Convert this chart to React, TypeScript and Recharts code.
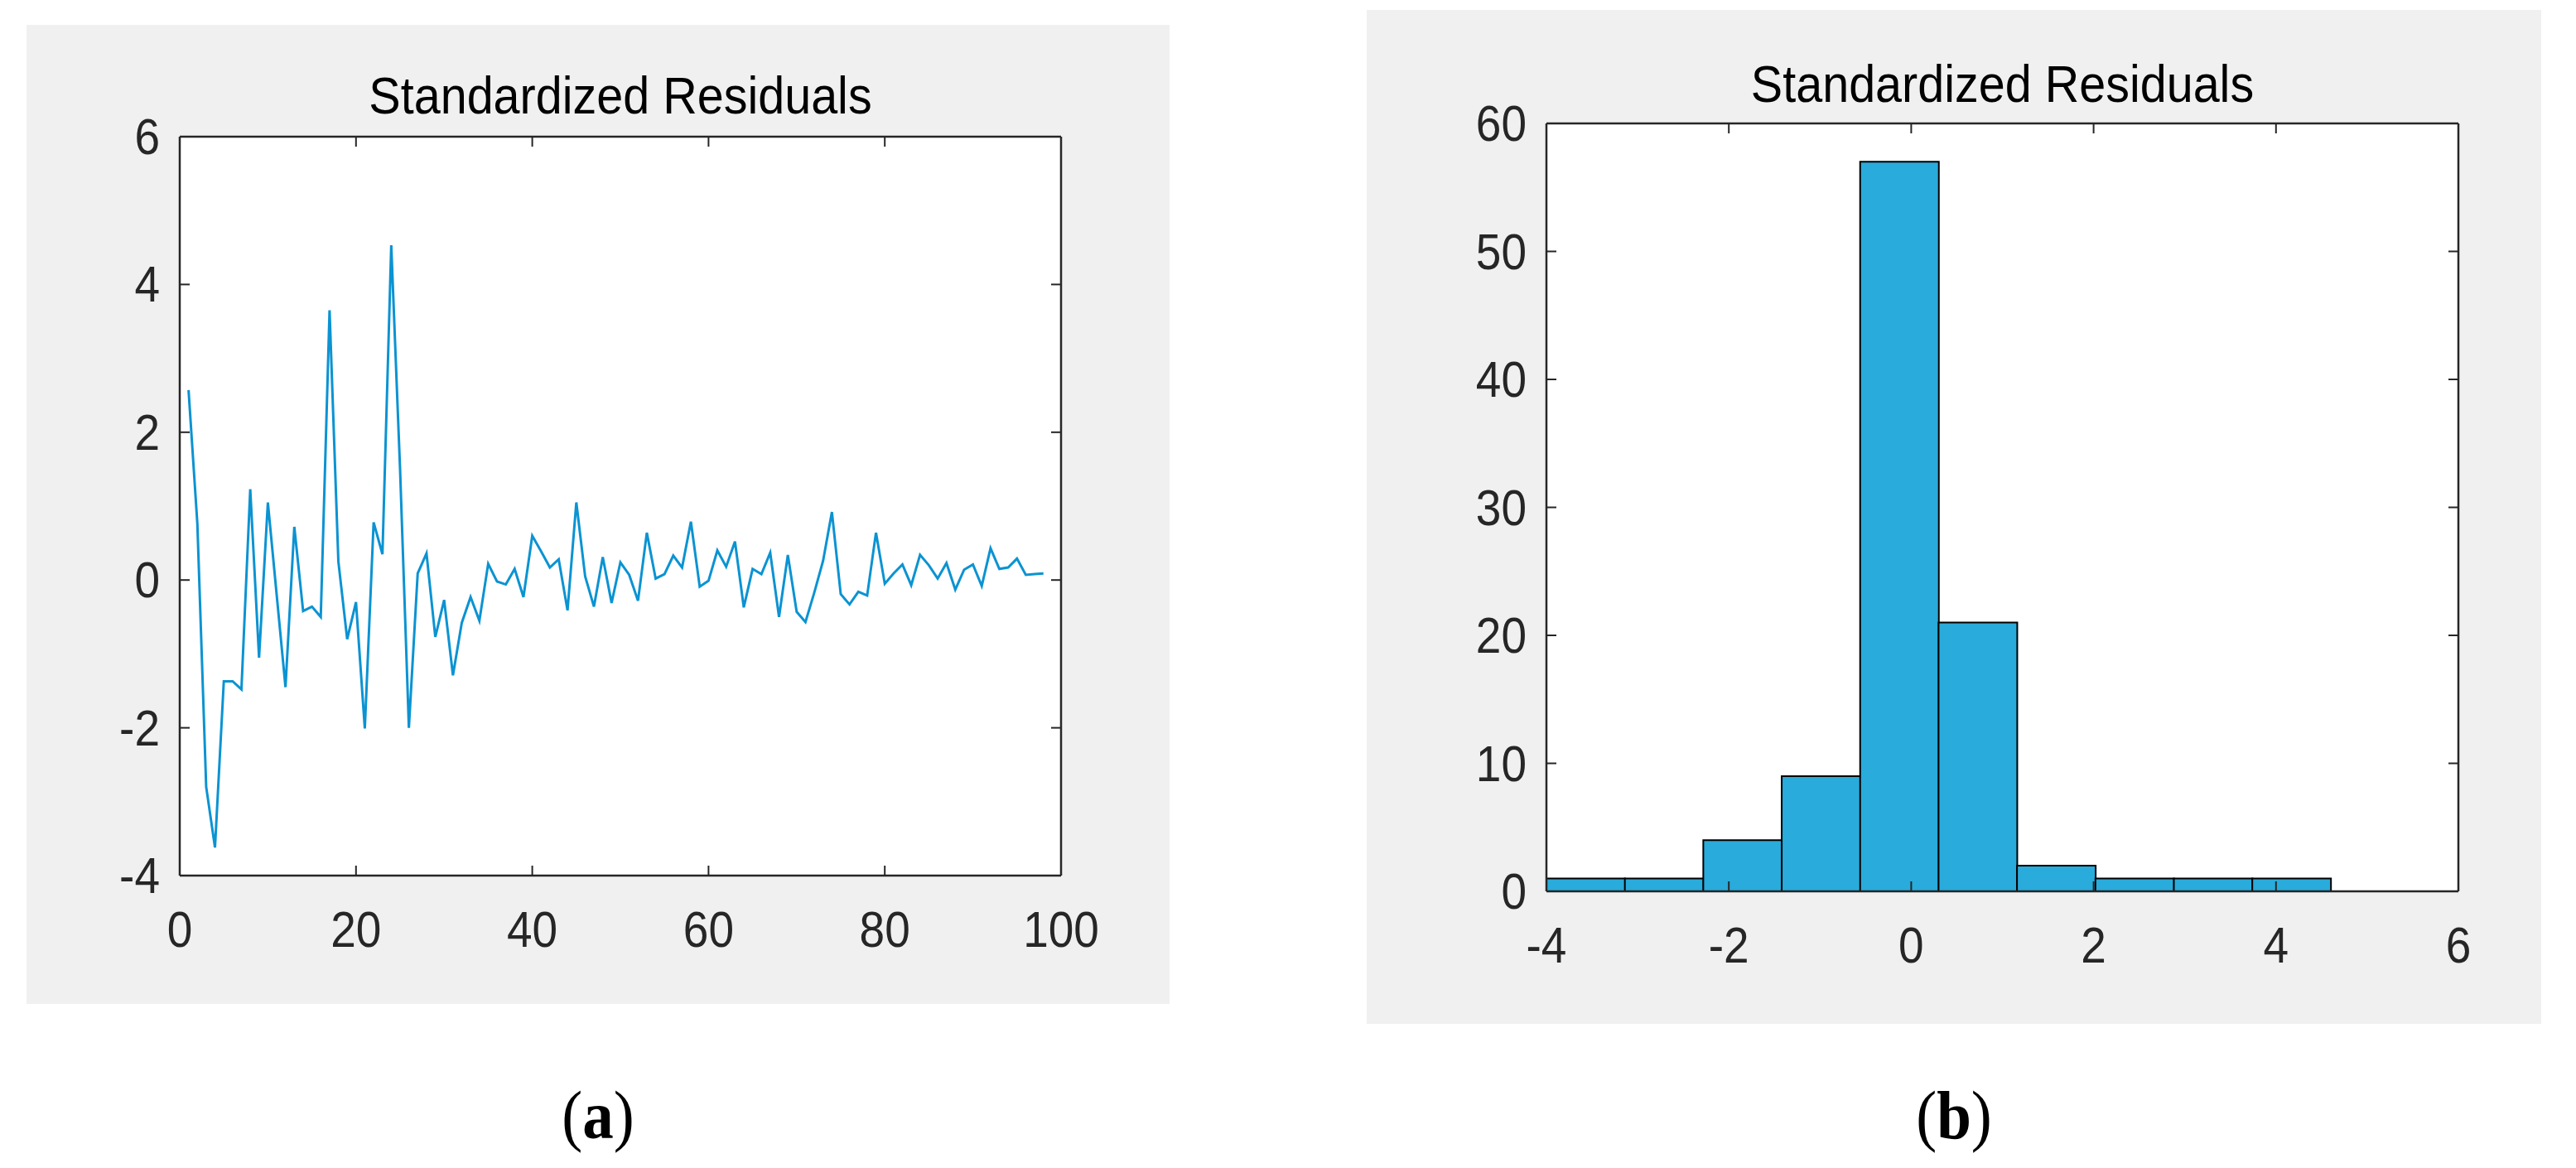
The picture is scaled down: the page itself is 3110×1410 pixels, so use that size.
import React from 'react';
import { ComposedChart, Line, BarChart, Bar, XAxis, YAxis, CartesianGrid } from 'recharts';

// ---------- data ----------
const residuals = [
  2.57, 0.76, -2.8, -3.62, -1.37, -1.37, -1.48, 1.23, -1.05, 1.05,
  -0.2, -1.45, 0.72, -0.42, -0.36, -0.5, 3.65, 0.25, -0.8, -0.3,
  -2.01, 0.78, 0.35, 4.53, 1.5, -2.0, 0.09, 0.36, -0.77, -0.27,
  -1.29, -0.58, -0.23, -0.55, 0.22, -0.02, -0.06, 0.15, -0.23, 0.6,
  0.39, 0.17, 0.28, -0.41, 1.05, 0.05, -0.36, 0.31, -0.31, 0.24,
  0.07, -0.28, 0.64, 0.02, 0.08, 0.33, 0.17, 0.79, -0.09, -0.01,
  0.4, 0.18, 0.52, -0.37, 0.15, 0.08, 0.37, -0.5, 0.34, -0.43,
  -0.57, -0.17, 0.26, 0.92, -0.19, -0.33, -0.16, -0.21, 0.64, -0.05,
  0.09, 0.21, -0.07, 0.34, 0.2, 0.02, 0.23, -0.13, 0.14, 0.21,
  -0.08, 0.43, 0.15, 0.17, 0.29, 0.07, 0.08, 0.09,
];
const lineTicksX = [0, 20, 40, 60, 80, 100];
const lineTicksY = [-4, -2, 0, 2, 4, 6];

const histEdges = [-4, -3.14, -2.28, -1.42, -0.56, 0.3, 1.16, 2.02, 2.88, 3.74, 4.6];
const histCounts = [1, 1, 4, 9, 57, 21, 2, 1, 1, 1];
const histTicksX = [-4, -2, 0, 2, 4, 6];
const histTicksY = [0, 10, 20, 30, 40, 50, 60];

const titleText = 'Standardized Residuals';
const captions = ['a', 'b'];

const lineData = residuals.map((v, i) => ({ t: i + 1, v }));
const histData = histCounts.map((c, i) => ({
  center: (histEdges[i] + histEdges[i + 1]) / 2,
  count: c,
}));

// ---------- style ----------
const AXIS = '#262626';
const FONT = '"Liberation Sans", Arial, Helvetica, sans-serif';
const SERIF = '"Liberation Serif", "Times New Roman", serif';
const FS = 55;
const SY = 1.1;
const TICK_LEN = 12;
const GRAY = '#f0f0f0';
const LINE_COLOR = '#0b93d2';
const BAR_COLOR = '#29abdb';

type TickProps = { x?: number; y?: number; payload?: { value: number } };

const BottomTick = (props: TickProps) => {
  const { x = 0, y = 0, payload } = props;
  return (
    <g>
      <line x1={x} x2={x} y1={y} y2={y - TICK_LEN} stroke={AXIS} strokeWidth={2} />
      <text
        transform={`translate(${x} ${y + 86}) scale(1 ${SY})`}
        textAnchor="middle"
        fontSize={FS}
        fontFamily={FONT}
        fill={AXIS}
      >
        {payload?.value}
      </text>
    </g>
  );
};
const TopTick = (props: TickProps) => {
  const { x = 0, y = 0 } = props;
  return <line x1={x} x2={x} y1={y} y2={y + TICK_LEN} stroke={AXIS} strokeWidth={2} />;
};
const LeftTick = (props: TickProps) => {
  const { x = 0, y = 0, payload } = props;
  return (
    <g>
      <line x1={x} x2={x + TICK_LEN} y1={y} y2={y} stroke={AXIS} strokeWidth={2} />
      <text
        transform={`translate(${x - 24} ${y + 21}) scale(1 ${SY})`}
        textAnchor="end"
        fontSize={FS}
        fontFamily={FONT}
        fill={AXIS}
      >
        {payload?.value}
      </text>
    </g>
  );
};
const RightTick = (props: TickProps) => {
  const { x = 0, y = 0 } = props;
  return <line x1={x} x2={x - TICK_LEN} y1={y} y2={y} stroke={AXIS} strokeWidth={2} />;
};

const axisLine = { stroke: AXIS, strokeWidth: 2.5 };

// panel geometry (axes take 1px each, so margins are 1px smaller than the gaps)
const P1 = { left: 32, top: 30, w: 1380, h: 1182 };
const M1 = { left: 184, right: 130, top: 134, bottom: 154 };
const P2 = { left: 1650, top: 12, w: 1418, h: 1224 };
const M2 = { left: 216, right: 99, top: 136, bottom: 159 };

const common = {
  tickSize: 0,
  tickMargin: 0,
  interval: 0 as const,
  axisLine,
  tickLine: false,
  allowDataOverflow: true,
};

export default function App() {
  const title1X = P1.left + M1.left + 1 + (P1.w - M1.left - M1.right - 2) / 2;
  const title2X = P2.left + M2.left + 1 + (P2.w - M2.left - M2.right - 2) / 2;
  return (
    <div style={{ position: 'absolute', left: 0, top: 0, width: 3110, height: 1410, background: '#ffffff' }}>
      <div style={{ position: 'absolute', left: P1.left, top: P1.top, width: P1.w, height: P1.h, background: GRAY }}>
        <ComposedChart width={P1.w} height={P1.h} data={lineData} margin={M1}>
          <CartesianGrid fill="#ffffff" horizontal={false} vertical={false} />
          <Line
            type="linear"
            dataKey="v"
            stroke={LINE_COLOR}
            strokeWidth={3}
            dot={false}
            activeDot={false}
            isAnimationActive={false}
          />
          <XAxis {...common} type="number" dataKey="t" domain={[0, 100]} ticks={lineTicksX} height={1} tick={<BottomTick />} />
          <XAxis {...common} xAxisId="top" orientation="top" type="number" dataKey="t" domain={[0, 100]} ticks={lineTicksX} height={1} tick={<TopTick />} />
          <YAxis {...common} type="number" domain={[-4, 6]} ticks={lineTicksY} width={1} tick={<LeftTick />} />
          <YAxis {...common} yAxisId="r" orientation="right" type="number" dataKey="v" domain={[-4, 6]} ticks={lineTicksY} width={1} tick={<RightTick />} />
        </ComposedChart>
      </div>

      <div style={{ position: 'absolute', left: P2.left, top: P2.top, width: P2.w, height: P2.h, background: GRAY }}>
        <BarChart width={P2.w} height={P2.h} data={histData} margin={M2} barCategoryGap={0} barGap={0}>
          <CartesianGrid fill="#ffffff" horizontal={false} vertical={false} />
          <Bar
            dataKey="count"
            fill={BAR_COLOR}
            stroke="#000000"
            strokeWidth={2}
            isAnimationActive={false}
          />
          <XAxis {...common} type="number" dataKey="center" domain={[-4, 6]} ticks={histTicksX} height={1} tick={<BottomTick />} />
          <XAxis {...common} xAxisId="top" orientation="top" type="number" dataKey="center" domain={[-4, 6]} ticks={histTicksX} height={1} tick={<TopTick />} />
          <YAxis {...common} type="number" domain={[0, 60]} ticks={histTicksY} width={1} tick={<LeftTick />} />
          <YAxis {...common} yAxisId="r" orientation="right" type="number" dataKey="count" domain={[0, 60]} ticks={histTicksY} width={1} tick={<RightTick />} />
        </BarChart>
      </div>

      <svg
        width={3110}
        height={1410}
        style={{ position: 'absolute', left: 0, top: 0, pointerEvents: 'none' }}
      >
        <text
          transform={`translate(${title1X} 137) scale(1 ${SY})`}
          textAnchor="middle"
          fontSize={57.5}
          fontFamily={FONT}
          fill="#000000"
        >
          {titleText}
        </text>
        <text
          transform={`translate(${title2X} 123) scale(1 ${SY})`}
          textAnchor="middle"
          fontSize={57.5}
          fontFamily={FONT}
          fill="#000000"
        >
          {titleText}
        </text>
        {[P1, P2].map((p, i) => (
          <text
            key={captions[i]}
            transform={`translate(${p.left + p.w / 2} 1374) scale(1 ${SY})`}
            textAnchor="middle"
            fontSize={75}
            fontFamily={SERIF}
            fill="#000000"
          >
            (<tspan fontWeight="bold">{captions[i]}</tspan>)
          </text>
        ))}
      </svg>
    </div>
  );
}
